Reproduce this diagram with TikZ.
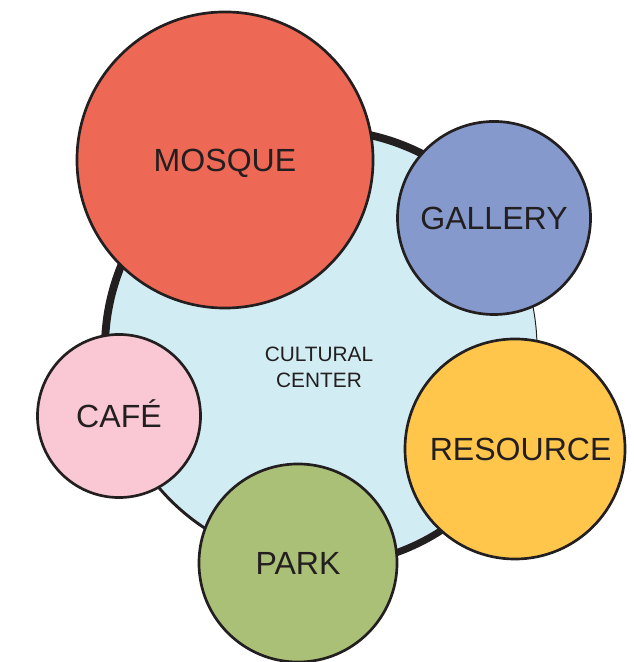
\documentclass[tikz,border=0pt]{standalone}
\usepackage{fontspec}
\setmainfont{Liberation Sans}
\definecolor{ink}{HTML}{231F20}
\definecolor{hubcol}{RGB}{209,237,243}
\definecolor{mosquecol}{RGB}{238,104,86}
\definecolor{gallerycol}{RGB}{133,153,204}
\definecolor{resourcecol}{RGB}{255,198,75}
\definecolor{cafecol}{RGB}{249,200,212}
\definecolor{parkcol}{RGB}{171,192,119}

\begin{document}
\begin{tikzpicture}
  [x=0.025cm,y=0.025cm, every node/.style={circle,draw=ink,line width=1.9pt,inner sep=0pt,text=ink,font=\fontsize{22.8}{26}\selectfont,text height=16.3pt,text depth=0pt},
   rim/.style={draw=ink,line width=5.6pt}] % rim = the heavy outline pieces of the big circle

  \useasboundingbox (0,0) rectangle (633,662);

  \node[fill=hubcol,draw=none,minimum size=10.7cm] (hub) at (323,314) {};
  \node[rectangle,draw=none,align=center,font=\fontsize{14.8}{18.4}\selectfont,text height={},text depth={}] (hubtext) at (319,295) {CULTURAL\\CENTER};

  \draw[rim] ([shift={(117.5:218)}]hub.center) arc[start angle=117.5,end angle=37.2,radius=218];
  \draw[draw=ink,line width=0.7pt] ([shift={(37.2:214)}]hub.center) arc[start angle=37.2,end angle=-27.7,radius=214];
  \draw[rim,line width=5pt] ([shift={(-27.7:217.5)}]hub.center) arc[start angle=-27.7,end angle=-96.6,radius=217.5];
  \draw[draw=ink,line width=2.1pt] ([shift={(-96.6:215.5)}]hub.center) arc[start angle=-96.6,end angle=-161.6,radius=215.5];
  \draw[rim] ([shift={(198.4:218)}]hub.center) arc[start angle=198.4,end angle=117.5,radius=218];

  \node[fill=mosquecol,minimum size=7.4cm] (mosque) at (225,502) {MOSQUE};
  \node[fill=gallerycol,minimum size=4.825cm] (gallery) at (494,444) {GALLERY};
  \node[fill=resourcecol,minimum size=5.5cm] (resource) at (515,213) {\hspace{8pt}RESOURCE};
  \node[fill=cafecol,minimum size=4.075cm] (cafe) at (119,246) {CAFÉ\hspace{8pt}};
  \node[fill=parkcol,minimum size=4.95cm] (park) at (298,99) {PARK};

\end{tikzpicture}
\end{document}
